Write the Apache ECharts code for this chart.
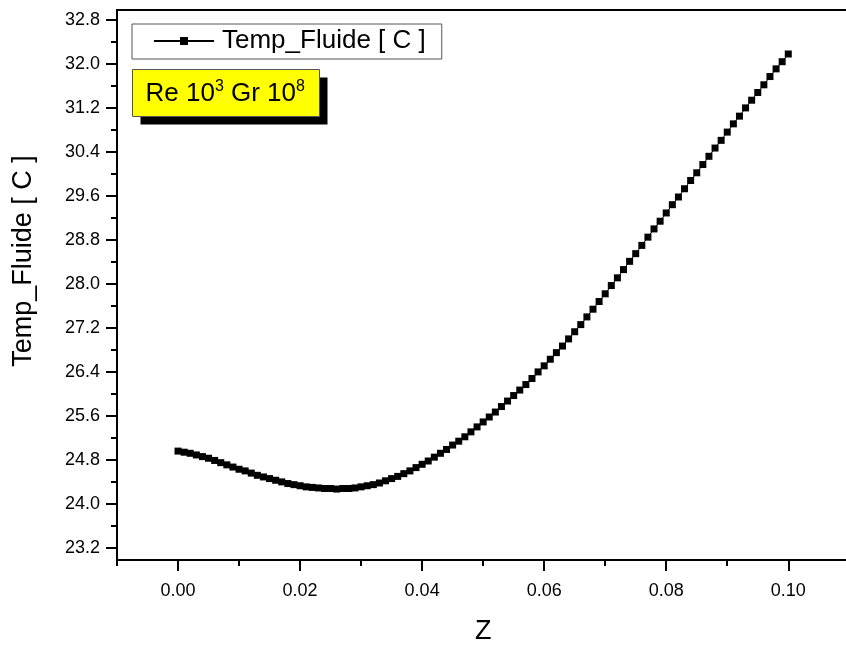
<!DOCTYPE html>
<html>
<head>
<meta charset="utf-8">
<script src="https://cdn.jsdelivr.net/npm/echarts@6/dist/echarts.min.js"></script>
<style>
  html, body { margin: 0; padding: 0; background: #fff; }
  #chart { width: 846px; height: 646px; }
</style>
</head>
<body>
<div id="chart"></div>
<script>
// Axial position Z and fluid temperature along the channel
const zValues = [
  0.000, 0.001, 0.002, 0.003, 0.004, 0.005, 0.006, 0.007, 0.008, 0.009,
  0.010, 0.011, 0.012, 0.013, 0.014, 0.015, 0.016, 0.017, 0.018, 0.019,
  0.020, 0.021, 0.022, 0.023, 0.024, 0.025, 0.026, 0.027, 0.028, 0.029,
  0.030, 0.031, 0.032, 0.033, 0.034, 0.035, 0.036, 0.037, 0.038, 0.039,
  0.040, 0.041, 0.042, 0.043, 0.044, 0.045, 0.046, 0.047, 0.048, 0.049,
  0.050, 0.051, 0.052, 0.053, 0.054, 0.055, 0.056, 0.057, 0.058, 0.059,
  0.060, 0.061, 0.062, 0.063, 0.064, 0.065, 0.066, 0.067, 0.068, 0.069,
  0.070, 0.071, 0.072, 0.073, 0.074, 0.075, 0.076, 0.077, 0.078, 0.079,
  0.080, 0.081, 0.082, 0.083, 0.084, 0.085, 0.086, 0.087, 0.088, 0.089,
  0.090, 0.091, 0.092, 0.093, 0.094, 0.095, 0.096, 0.097, 0.098, 0.099,
  0.100
];
const tempFluide = [
  24.96, 24.94, 24.92, 24.89, 24.86, 24.83, 24.79, 24.75, 24.71, 24.67,
  24.63, 24.60, 24.56, 24.52, 24.49, 24.46, 24.43, 24.40, 24.37, 24.35,
  24.33, 24.31, 24.30, 24.29, 24.28, 24.28, 24.27, 24.28, 24.28, 24.29,
  24.31, 24.33, 24.35, 24.38, 24.42, 24.46, 24.50, 24.55, 24.60, 24.66,
  24.72, 24.78, 24.85, 24.92, 24.99, 25.07, 25.14, 25.22, 25.31, 25.40,
  25.49, 25.58, 25.67, 25.77, 25.87, 25.97, 26.07, 26.17, 26.28, 26.40,
  26.51, 26.63, 26.75, 26.87, 27.00, 27.13, 27.26, 27.40, 27.54, 27.68,
  27.82, 27.97, 28.11, 28.26, 28.41, 28.55, 28.70, 28.85, 29.00, 29.14,
  29.29, 29.44, 29.58, 29.73, 29.88, 30.02, 30.17, 30.32, 30.47, 30.61,
  30.76, 30.91, 31.05, 31.20, 31.34, 31.48, 31.62, 31.77, 31.91, 32.04,
  32.18
];

// Tick positions
const xMajorTicks = [0.00, 0.02, 0.04, 0.06, 0.08, 0.10];
const xMinorTicks = [-0.01, 0.01, 0.03, 0.05, 0.07, 0.09, 0.11];
const yMajorTicks = [23.2, 24.0, 24.8, 25.6, 26.4, 27.2, 28.0, 28.8, 29.6, 30.4, 31.2, 32.0, 32.8];
const yMinorTicks = [23.6, 24.4, 25.2, 26.0, 26.8, 27.6, 28.4, 29.2, 30.0, 30.8, 31.6, 32.4];

const seriesName = 'Temp_Fluide [ C ]';
const FONT = '"Liberation Sans", Arial, Helvetica, sans-serif';

const X_MIN = -0.01, X_MAX = 0.11;
const Y_MIN = 22.98, Y_MAX = 32.98;

const chart = echarts.init(document.getElementById('chart'), null, { renderer: 'canvas' });

const hiddenPart = { show: false };

chart.setOption({
  animation: false,
  backgroundColor: '#ffffff',
  textStyle: { fontFamily: FONT, color: '#000' },
  grid: { left: 117, top: 10, right: -3.3, bottom: 86, containLabel: false, outerBoundsMode: 'none' },
  legend: {
    left: 132,
    top: 24,
    orient: 'horizontal',
    padding: [4, 16, 5, 21],
    itemWidth: 60,
    itemHeight: 10,
    backgroundColor: '#fff',
    borderColor: '#555',
    borderWidth: 1,
    borderRadius: 0,
    textStyle: { fontFamily: FONT, fontSize: 26, color: '#000', padding: [0, 0, 0, 3] },
    data: [seriesName]
  },
  // Parameter box with drop shadow
  graphic: [
    {
      type: 'group',
      left: 132,
      top: 69,
      children: [
        { type: 'rect', shape: { x: 8, y: 8, width: 187, height: 47 }, style: { fill: '#000' } },
        { type: 'rect', shape: { x: 0, y: 0, width: 187, height: 47 }, style: { fill: '#ffff00', stroke: '#555', lineWidth: 1 } },
        {
          type: 'text',
          x: 13,
          y: 24,
          style: {
            text: 'Re 10{sup|3} Gr 10{sup|8}',
            fontFamily: FONT,
            fontSize: 26,
            fill: '#000',
            verticalAlign: 'middle',
            align: 'left',
            lineHeight: 30,
            rich: {
              sup: { fontFamily: FONT, fontSize: 16, lineHeight: 16, verticalAlign: 'top', fill: '#000' }
            }
          }
        }
      ]
    }
  ],
  xAxis: [
    {
      type: 'value', position: 'bottom', min: X_MIN, max: X_MAX,
      name: 'Z', nameLocation: 'middle', nameGap: 58,
      nameTextStyle: { fontFamily: FONT, fontSize: 27, color: '#000' },
      axisLine: { show: true, onZero: false, lineStyle: { color: '#000', width: 2 } },
      axisTick: { show: true, inside: false, length: 11, lineStyle: { color: '#000', width: 2 }, customValues: xMajorTicks },
      axisLabel: {
        show: true, margin: 22, fontFamily: FONT, fontSize: 18, color: '#000',
        customValues: xMajorTicks,
        formatter: v => v.toFixed(2)
      },
      splitLine: hiddenPart
    },
    {
      type: 'value', position: 'bottom', min: X_MIN, max: X_MAX,
      axisLine: { show: false, onZero: false },
      axisTick: { show: true, inside: false, length: 6, lineStyle: { color: '#000', width: 2 }, customValues: xMinorTicks },
      axisLabel: hiddenPart,
      splitLine: hiddenPart
    },
    {
      type: 'value', position: 'top', min: X_MIN, max: X_MAX,
      axisLine: { show: true, onZero: false, lineStyle: { color: '#000', width: 2 } },
      axisTick: hiddenPart,
      axisLabel: hiddenPart,
      splitLine: hiddenPart
    }
  ],
  yAxis: [
    {
      type: 'value', position: 'left', min: Y_MIN, max: Y_MAX,
      name: seriesName, nameLocation: 'middle', nameGap: 80, nameRotate: 90,
      nameTextStyle: { fontFamily: FONT, fontSize: 27, color: '#000', padding: [0, 0, 0, 48] },
      axisLine: { show: true, onZero: false, lineStyle: { color: '#000', width: 2 } },
      axisTick: { show: true, inside: false, length: 11, lineStyle: { color: '#000', width: 2 }, customValues: yMajorTicks },
      axisLabel: {
        show: true, margin: 17, fontFamily: FONT, fontSize: 18, color: '#000',
        customValues: yMajorTicks,
        formatter: v => v.toFixed(1)
      },
      splitLine: hiddenPart
    },
    {
      type: 'value', position: 'left', min: Y_MIN, max: Y_MAX,
      axisLine: { show: false, onZero: false },
      axisTick: { show: true, inside: false, length: 6, lineStyle: { color: '#000', width: 2 }, customValues: yMinorTicks },
      axisLabel: hiddenPart,
      splitLine: hiddenPart
    }
  ],
  series: [
    {
      name: seriesName,
      type: 'line',
      xAxisIndex: 0,
      yAxisIndex: 0,
      data: zValues.map((z, i) => [z, tempFluide[i]]),
      symbol: 'rect',
      symbolSize: 7,
      showAllSymbol: true,
      lineStyle: { color: '#000', width: 1 },
      itemStyle: { color: '#000', borderWidth: 0 },
      emphasis: { disabled: true },
      clip: false
    }
  ]
});
</script>
</body>
</html>
